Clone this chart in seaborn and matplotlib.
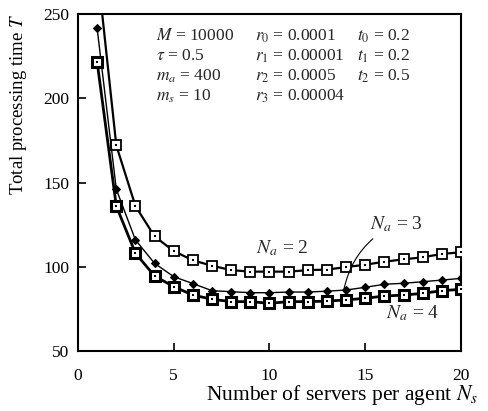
import numpy as np
import pandas as pd
import matplotlib
matplotlib.use("Agg")
import matplotlib.pyplot as plt
import seaborn as sns

# ---- data ----
servers = list(range(1, 21))
t_na2 = [278, 172, 136, 118, 109.3, 103.8, 100.6, 98, 97.1, 97.1, 97.1, 98, 98.3,
         99.8, 101.2, 103, 104.4, 105.6, 107.6, 108.6]
t_na3 = [241.5, 146, 115.9, 102, 94.1, 90, 85.8, 85.2, 84.6, 84.6, 85, 85, 85.5,
         86.2, 87.8, 89.6, 90.2, 91.1, 92.1, 93.1]
t_na4 = [221.5, 136, 108, 94.5, 88.2, 83.2, 80.7, 79.3, 79.3, 78.3, 79.3, 79.3, 79.6,
         80.3, 81.3, 82.6, 83.2, 84.2, 85.8, 86.6]
series_labels = ["$N_a$ = 2", "$N_a$ = 3", "$N_a$ = 4"]
x_ticks = [0, 5, 10, 15, 20]
y_ticks = [50, 100, 150, 200, 250]

df = pd.concat([
    pd.DataFrame({"Ns": servers, "T": t_na2, "series": "Na2"}),
    pd.DataFrame({"Ns": servers, "T": t_na3, "series": "Na3"}),
    pd.DataFrame({"Ns": servers, "T": t_na4, "series": "Na4"}),
])

sns.set_theme(style="white")
plt.rcParams["font.family"] = ["Liberation Serif", "DejaVu Serif"]
plt.rcParams["mathtext.fontset"] = "stix"

fig = plt.figure(figsize=(4.89, 4.11), dpi=100)
ax = fig.add_axes([78 / 489, 1 - 351 / 411, (461 - 78) / 489, (351 - 14) / 411])

d2 = df[df.series == "Na2"]
d3 = df[df.series == "Na3"]
d4 = df[df.series == "Na4"]

sns.lineplot(data=d2, x="Ns", y="T", ax=ax, color="black", lw=1.6, marker="s",
             markersize=6.5, markerfacecolor="white", markeredgecolor="black",
             markeredgewidth=1.3, zorder=3)
sns.lineplot(data=d3, x="Ns", y="T", ax=ax, color="black", lw=1.0, marker="D",
             markersize=4.5, markerfacecolor="black", markeredgecolor="black",
             zorder=3)
sns.lineplot(data=d4, x="Ns", y="T", ax=ax, color="black", lw=2.0, marker="s",
             markersize=6.5, markerfacecolor="white", markeredgecolor="black",
             markeredgewidth=2.2, zorder=4)
# centre dots of the square markers
sns.scatterplot(data=pd.concat([d2, d4]), x="Ns", y="T", ax=ax, color="black",
                marker="s", s=3, linewidth=0, zorder=5)

ax.set_xlim(0, 20)
ax.set_ylim(50, 250)
ax.set_xticks(x_ticks)
ax.set_yticks(y_ticks)
ax.tick_params(axis="both", direction="in", length=6, width=1.2, labelsize=12.5,
               colors="black", bottom=True, left=True, top=False, right=False)
ax.tick_params(axis="x", pad=12)
ax.tick_params(axis="y", pad=6)
for s in ax.spines.values():
    s.set_color("black")
    s.set_linewidth(1.5)

ax.set_xlabel("Number of servers per agent $N_s$", fontsize=15.5, color="black")
ax.xaxis.set_label_coords(1.045, -0.095)
ax.xaxis.label.set_ha("right")
ax.set_ylabel("Total processing time $T$", fontsize=13.5, color="black")
ax.yaxis.set_label_coords(-0.155, 1.0)
ax.yaxis.label.set_ha("right")
ax.yaxis.label.set_va("center")

# parameter block
fs = 12.5
col1 = ["$M$ = 10000", r"$\tau$ = 0.5", "$m_a$ = 400", "$m_s$ = 10"]
col2 = ["$r_0$ = 0.0001", "$r_1$ = 0.00001", "$r_2$ = 0.0005", "$r_3$ = 0.00004"]
col3 = ["$t_0$ = 0.2", "$t_1$ = 0.2", "$t_2$ = 0.5"]
rows_y = [36, 56, 76, 96]
def px2data(px, py):
    return (px - 78) / (461 - 78) * 20, 250 - (py - 14) / (351 - 14) * 200
for i, t in enumerate(col1):
    ax.text(*px2data(156, rows_y[i]), t, fontsize=fs, va="center", ha="left")
for i, t in enumerate(col2):
    ax.text(*px2data(255, rows_y[i]), t, fontsize=fs, va="center", ha="left")
for i, t in enumerate(col3):
    ax.text(*px2data(357, rows_y[i]), t, fontsize=fs, va="center", ha="left")

ax.text(*px2data(256, 248), series_labels[0], fontsize=14, va="center", ha="left")
ax.annotate(series_labels[1], xy=px2data(344, 289), xytext=px2data(370, 224),
            fontsize=14, va="center", ha="left",
            arrowprops=dict(arrowstyle="-", color="black", lw=0.8,
                            connectionstyle="arc3,rad=0.25",
                            shrinkA=2, shrinkB=0))
ax.text(*px2data(386, 313), series_labels[2], fontsize=14, va="center", ha="left")

fig.savefig("out.png", dpi=100, facecolor="white")
